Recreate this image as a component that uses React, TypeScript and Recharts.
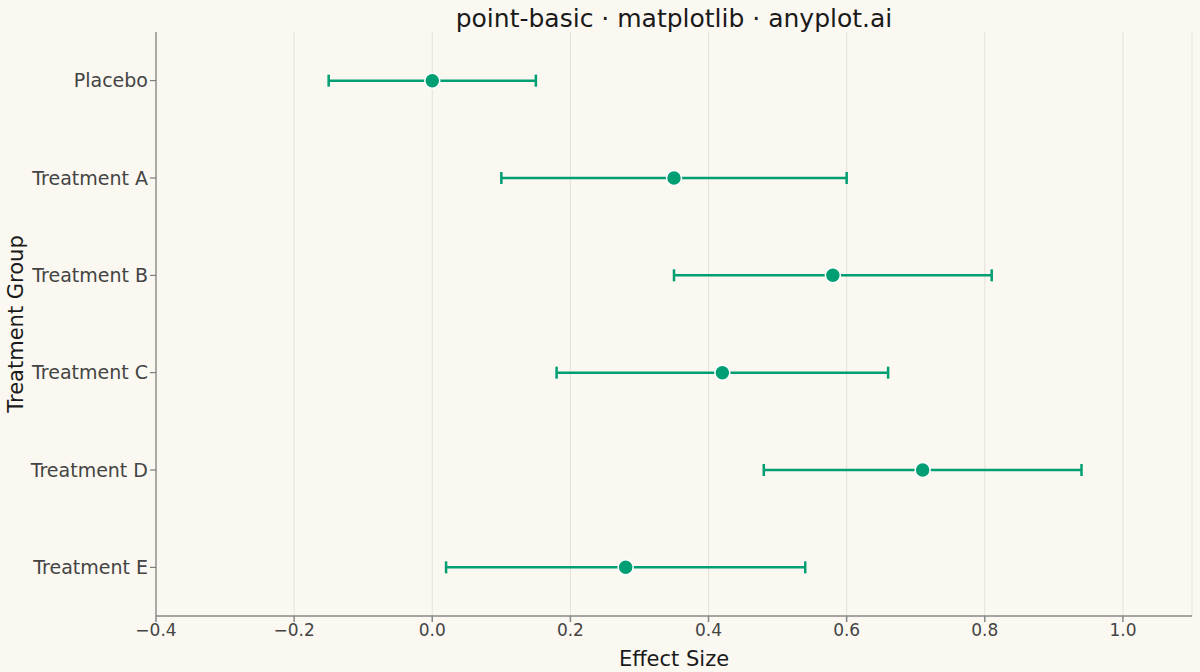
import React from 'react';
import { ScatterChart, Scatter, XAxis, YAxis, CartesianGrid, ErrorBar } from 'recharts';

const groups = ['Placebo', 'Treatment A', 'Treatment B', 'Treatment C', 'Treatment D', 'Treatment E'];
const effects = [0.0, 0.35, 0.58, 0.42, 0.71, 0.28];
const lower = [-0.15, 0.1, 0.35, 0.18, 0.48, 0.02];
const upper = [0.15, 0.6, 0.81, 0.66, 0.94, 0.54];
const xTicks = [-0.4, -0.2, 0.0, 0.2, 0.4, 0.6, 0.8, 1.0];
const yTicks = [0, 1, 2, 3, 4, 5];

const GREEN = '#009E73';
const BG = '#FAF8F1';
const FONT = '"DejaVu Sans", sans-serif';

const data = groups.map((g, i) => ({
  idx: i,
  name: g,
  effect: effects[i],
  err: [effects[i] - lower[i], upper[i] - effects[i]],
}));

const fmtX = (v: number) => (v < 0 ? '\u2212' + Math.abs(v).toFixed(1) : v.toFixed(1));

const Dot = (props: { cx?: number; cy?: number }) => {
  const { cx = 0, cy = 0 } = props;
  return <circle cx={cx} cy={cy} r={7.5} fill={GREEN} stroke="#FFFFFF" strokeWidth={1.5} />;
};

export default function App() {
  return (
    <div style={{ position: 'absolute', left: 0, top: 0, width: 1200, height: 672, background: BG, fontFamily: FONT }}>
      <div
        style={{
          position: 'absolute',
          left: 156,
          width: 1036,
          top: 4,
          textAlign: 'center',
          fontSize: 25,
          color: '#1a1a1a',
        }}
      >
        point-basic · matplotlib · anyplot.ai
      </div>
      <ScatterChart width={1200} height={672} margin={{ top: 32, right: 8, bottom: 0, left: 0 }}>
        <CartesianGrid horizontal={false} stroke="#E4E2DA" strokeWidth={1} />
        <XAxis
          type="number"
          dataKey="effect"
          domain={[-0.4, 1.1]}
          ticks={xTicks}
          tickFormatter={fmtX}
          height={56}
          stroke="#888"
          strokeWidth={1.5}
          tickSize={6}
          tick={{ fill: '#444', fontSize: 17, fontFamily: FONT }}
          label={{ value: 'Effect Size', position: 'insideBottom', offset: 6, fill: '#1a1a1a', fontSize: 21, fontFamily: FONT }}
        />
        <YAxis
          type="number"
          dataKey="idx"
          domain={[-0.5, 5.5]}
          ticks={yTicks}
          reversed
          tickFormatter={(i: number) => groups[i]}
          width={156}
          stroke="#666"
          strokeWidth={1}
          tickSize={6}
          tick={{ fill: '#444', fontSize: 19, fontFamily: FONT }}
          label={{ value: 'Treatment Group', angle: -90, position: 'insideLeft', offset: 16, fill: '#1a1a1a', fontSize: 21, fontFamily: FONT, style: { textAnchor: 'middle' } }}
        />
        <Scatter data={data} shape={<Dot />} isAnimationActive={false}>
          <ErrorBar dataKey="err" direction="x" width={6} stroke={GREEN} strokeWidth={2.5} />
        </Scatter>
      </ScatterChart>
    </div>
  );
}
